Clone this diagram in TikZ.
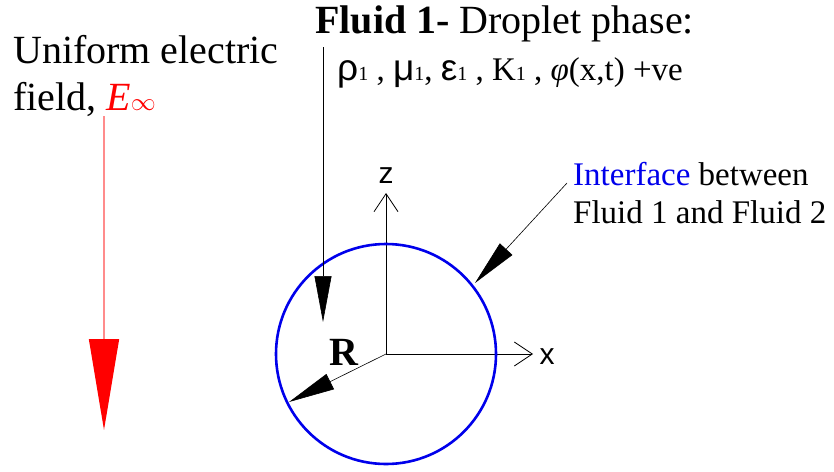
\documentclass[tikz,border=0pt]{standalone}
\usepackage{fontspec}
\setmainfont{Liberation Serif}
\setsansfont{Liberation Sans}
\usetikzlibrary{positioning,arrows.meta}
\definecolor{FieldRed}{RGB}{255,0,0}
\definecolor{PaleRed}{RGB}{255,140,140}
\definecolor{IfaceBlue}{RGB}{0,0,235}
\newcommand{\sone}{{\fontsize{20}{20}\selectfont 1}}
\newcommand{\grk}[1]{{\sffamily\fontsize{37}{38}\selectfont #1}}

\begin{document}
\begin{tikzpicture}[x=1pt, y=-1pt,
  biglbl/.style={inner sep=0pt, anchor=base west, font=\fontsize{40}{47}\selectfont},
  midlbl/.style={inner sep=0pt, anchor=base west, font=\fontsize{33}{38}\selectfont},
  axlbl/.style={inner sep=0pt, font=\sffamily\fontsize{30}{34}\selectfont},
  axarr/.style={-{Straight Barb[length=18pt,width=24pt]}, line width=0.8pt},
  parr/.style={-{Triangle[length=46pt,width=17pt]}, line width=0.6pt},
  earr/.style={-{Triangle[length=91pt,width=30pt,color=FieldRed]}, PaleRed, line width=1.5pt},
]
\useasboundingbox (0,0) rectangle (834,471);
% Field text
\node[biglbl] (unif) at (13,63) {Uniform electric};
\node[biglbl] (field) at (13,110) {field, \textcolor{FieldRed}{\textit{E}$\infty$}};
% Droplet text
\node[biglbl] (fluid) at (315,33) {\textbf{Fluid 1-} Droplet phase:};
\node[midlbl] (props) at (337,80) {\grk{ρ}\sone\ , \grk{μ}\sone, \grk{ε}\sone\ , K\sone\ , \textit{φ}(x,t) +ve};
% Interface text
\node[midlbl] (iface) at (573,185) {\textcolor{IfaceBlue}{Interface} between};
\node[midlbl] (iface2) at (573,223) {Fluid 1 and Fluid 2};
% Axes
\coordinate (O) at (386,354);
\coordinate (ztip) at (386,193);
\coordinate (xtip) at (533,354);
\node[axlbl] (zl) at (386,176) {z};
\node[axlbl] (xl) at (547,357) {x};
\draw[axarr] (O) -- (ztip);
\draw[axarr] (O) -- (xtip);
% Droplet
\draw[IfaceBlue, line width=2.6pt] (O) circle[radius=110];
\node[biglbl, font=\bfseries\fontsize{40}{47}\selectfont] (R) at (329,365) {R};
\coordinate (rtip) at (289,402);
\draw[parr] (O) -- (rtip);
% Pointer arrows
\coordinate (dtop) at (323,47);
\coordinate (dtip) at (323,322);
\draw[parr] (dtop) -- (dtip);
\coordinate (itop) at (567,183);
\coordinate (itip) at (475,283);
\draw[parr] (itop) -- (itip);
% Field arrow
\coordinate (etop) at (104,116);
\coordinate (ebot) at (104,430);
\draw[earr] (etop) -- (ebot);
\end{tikzpicture}
\end{document}
